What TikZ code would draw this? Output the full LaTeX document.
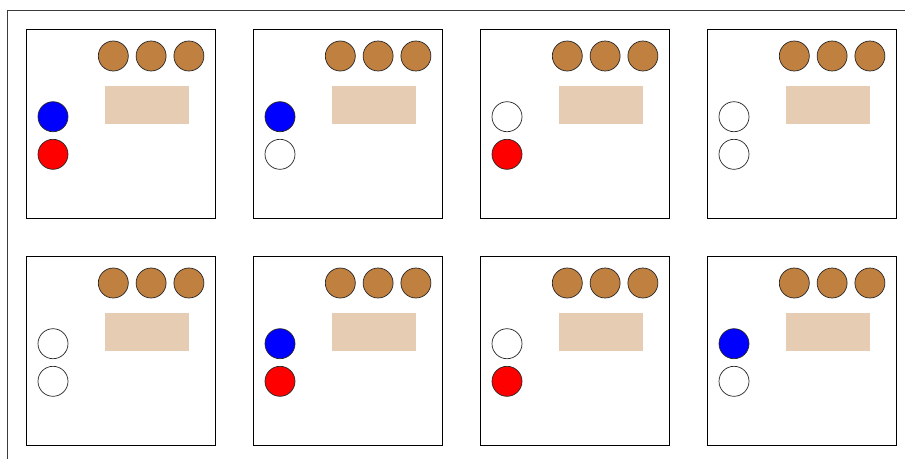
\documentclass[tikz,border=0pt]{standalone}
\usetikzlibrary{positioning,calc}
\definecolor{beadbrown}{RGB}{192,128,64}
\definecolor{padbeige}{RGB}{229,204,178}
\definecolor{framegray}{RGB}{60,60,60}
\begin{document}
\begin{tikzpicture}[
  x=1pt, y=-1pt,
  panel/.style={draw=black, line width=0.9pt, fill=white, minimum size=188.6pt,
                inner sep=0pt, outer sep=0pt},
  bead/.style={circle, draw=black!85, line width=0.7pt, fill=beadbrown,
               minimum size=30pt, inner sep=0pt},
  lamp/.style={circle, draw=black!85, line width=0.7pt,
               minimum size=30pt, inner sep=0pt},
  pad/.style={fill=padbeige, minimum width=84pt, minimum height=38pt,
              inner sep=0pt, outer sep=0pt},
  frame/.style={draw=framegray, line width=0.9pt},
]
\useasboundingbox (0,0) rectangle (905,459);

% ---- outer frame (runs off the page on the right and bottom) ----
\coordinate (fr) at (905,10.7);
\coordinate (fc) at (7.7,10.7);
\coordinate (fb) at (7.7,459);
\draw[frame] (fr) -- (fc) -- (fb);

% ---- the eight panels: column, row, upper lamp, lower lamp ----
\foreach \c/\r/\up/\lo [count=\i] in {
    0/0/blue/red, 1/0/blue/white, 2/0/white/red, 3/0/white/white,
    0/1/white/white, 1/1/blue/red, 2/1/white/red, 3/1/blue/white} {
  \node[panel] (p\i) at (121+227*\c, 124+227*\r) {};
  % three beads along the top
  \node[bead] (b\i a) at ($(p\i.north west)+(86.6,26.3)$) {};
  \node[bead, right=7.1pt of b\i a] (b\i b) {};
  \node[bead, right=7.1pt of b\i b] (b\i c) {};
  % beige pad
  \node[pad] (pad\i) at ($(p\i.north west)+(120.3,75.3)$) {};
  % the two lamps on the left
  \node[lamp, fill=\up] (u\i) at ($(p\i.north west)+(26.3,87)$) {};
  \node[lamp, fill=\lo, below=6.9pt of u\i] (l\i) {};
}

\end{tikzpicture}
\end{document}
